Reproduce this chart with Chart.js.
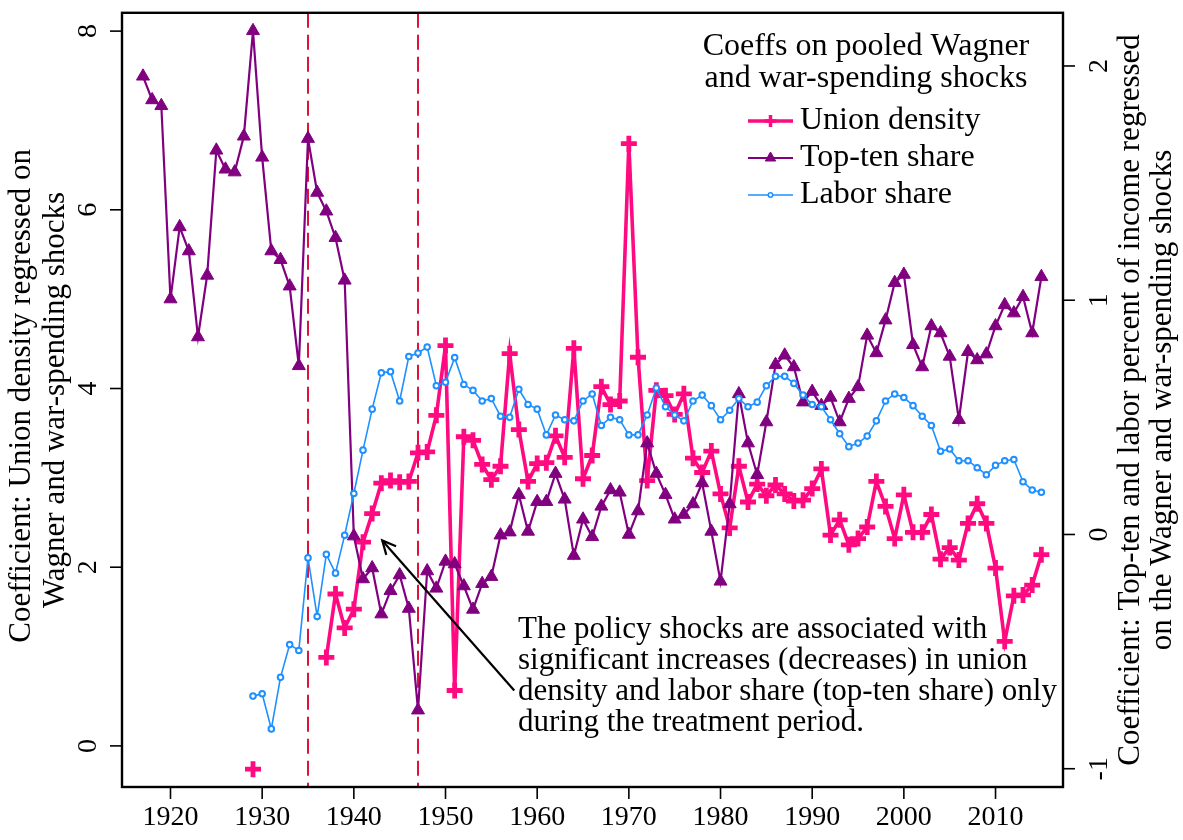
<!DOCTYPE html>
<html>
<head>
<meta charset="utf-8">
<script src="https://cdn.jsdelivr.net/npm/chart.js@4.4.1/dist/chart.umd.min.js"></script>
<style>
  html, body { margin: 0; background: #fff; }
  #wrap { width: 1183px; height: 840px; position: relative; }
</style>
</head>
<body>
<div id="wrap"><canvas id="chart"></canvas></div>
<script>
// years 1917..2015
const years = Array.from({ length: 99 }, (_, i) => 1917 + i);

// left axis
const unionDensity = [
  null, null, null, null, null, null, null, null, null, null, null, null, // 1917-1928
  -0.26,                                                                   // 1929
  null, null, null, null, null, null, null,                                // 1930-1936
  0.99, 1.70, 1.32, 1.53, 2.28, 2.60, 2.94, 2.97, 2.95, 2.96,              // 1937-1946
  3.28, 3.29, 3.70, 4.48, 0.62, 3.46, 3.42, 3.15, 2.98, 3.13,              // 1947-1956
  4.39, 3.54, 2.96, 3.16, 3.17, 3.47, 3.23, 4.45, 2.99, 3.25,              // 1957-1966
  4.02, 3.82, 3.86, 6.74, 4.35, 2.97, 3.98, 3.92, 3.71, 3.94,              // 1967-1976
  3.22, 3.06, 3.30, 2.82, 2.44, 3.13, 2.73, 2.93, 2.80, 2.92,              // 1977-1986
  2.82, 2.74, 2.75, 2.88, 3.10, 2.36, 2.53, 2.25, 2.32, 2.45,              // 1987-1996
  2.96, 2.68, 2.32, 2.81, 2.39, 2.39, 2.59, 2.09, 2.22, 2.08,              // 1997-2006
  2.49, 2.71, 2.49, 1.99, 1.17, 1.68, 1.69, 1.80, 2.14                     // 2007-2015
];

// right axis
const topTenShare = [
  1.956, 1.855, 1.83, 1.005, 1.313, 1.21, 0.843, 1.106, 1.64, 1.559,       // 1917-1926
  1.547, 1.70, 2.15, 1.61, 1.21, 1.173, 1.06, 0.72, 1.69, 1.46,            // 1927-1936
  1.38, 1.267, 1.085, -0.007, -0.19, -0.143, -0.34, -0.24, -0.173, -0.316, // 1937-1946
  -0.75, -0.156, -0.23, -0.115, -0.126, -0.22, -0.32, -0.21, -0.18, -0.003,// 1947-1956
  0.01, 0.17, 0.013, 0.14, 0.14, 0.26, 0.15, -0.09, 0.065, -0.01,          // 1957-1966
  0.12, 0.19, 0.18, 0.0, 0.10, 0.39, 0.26, 0.17, 0.065, 0.085,             // 1967-1976
  0.13, 0.22, 0.013, -0.2, 0.13, 0.60, 0.39, 0.255, 0.48, 0.725,           // 1977-1986
  0.765, 0.715, 0.565, 0.61, 0.55, 0.585, 0.48, 0.58, 0.63, 0.85,          // 1987-1996
  0.775, 0.915, 1.075, 1.11, 0.81, 0.715, 0.89, 0.86, 0.76, 0.49,          // 1997-2006
  0.78, 0.745, 0.77, 0.89, 0.98, 0.945, 1.015, 0.86, 1.10                  // 2007-2015
];

const laborShare = [
  null, null, null, null, null, null, null, null, null, null, null, null, // 1917-1928
  -0.69, -0.68, -0.83, -0.61, -0.47, -0.495, -0.10, -0.35,                 // 1929-1936
  -0.085, -0.165, -0.003, 0.175, 0.36, 0.535, 0.69, 0.695, 0.57, 0.76,     // 1937-1946
  0.775, 0.80, 0.635, 0.65, 0.755, 0.64, 0.615, 0.57, 0.58, 0.505,         // 1947-1956
  0.50, 0.62, 0.555, 0.535, 0.425, 0.51, 0.49, 0.485, 0.57, 0.60,          // 1957-1966
  0.465, 0.50, 0.49, 0.425, 0.425, 0.51, 0.625, 0.545, 0.51, 0.485,        // 1967-1976
  0.57, 0.595, 0.55, 0.49, 0.53, 0.58, 0.545, 0.565, 0.635, 0.675,         // 1977-1986
  0.675, 0.645, 0.595, 0.555, 0.545, 0.49, 0.43, 0.375, 0.39, 0.42,        // 1987-1996
  0.485, 0.57, 0.60, 0.585, 0.55, 0.505, 0.465, 0.355, 0.365, 0.315,       // 1997-2006
  0.315, 0.285, 0.255, 0.295, 0.315, 0.32, 0.225, 0.19, 0.18               // 2007-2015
];

const xTicks = [1920, 1930, 1940, 1950, 1960, 1970, 1980, 1990, 2000, 2010];
const leftTicks = [0, 2, 4, 6, 8];
const rightTicks = [-1, 0, 1, 2];
const treatmentYears = [1935, 1947];

const legendTitle = ['Coeffs on pooled Wagner', 'and war-spending shocks'];
const leftTitle = ['Coefficient: Union density regressed on', 'Wagner and war-spending shocks'];
const rightTitle = ['Coefficient: Top-ten and labor percent of income regressed', 'on the Wagner and war-spending shocks'];
const note = [
  'The policy shocks are associated with',
  'significant increases (decreases) in union',
  'density and labor share (top-ten share) only',
  'during the treatment period.'
];

const PINK = '#ff0a80';
const PURPLE = '#800080';
const BLUE = '#1e90ff';
const DASH = '#dc143c';
const FONT = '"Liberation Serif", "Times New Roman", serif';

const pts = vals => years.map((yr, i) => ({ x: yr, y: vals[i] }));

const series = [
  { label: 'Union density', color: PINK, style: 'cross', lw: 3.5 },
  { label: 'Top-ten share', color: PURPLE, style: 'triangle', lw: 2 },
  { label: 'Labor share', color: BLUE, style: 'circle', lw: 1.6 }
];

const decor = {
  id: 'decor',
  beforeDatasetsDraw(chart) {
    const { ctx, chartArea: a, scales: { x } } = chart;
    ctx.save();
    ctx.strokeStyle = DASH;
    ctx.lineWidth = 2;
    ctx.setLineDash([15, 7]);
    treatmentYears.forEach(yr => {
      const px = Math.round(x.getPixelForValue(yr));
      ctx.beginPath();
      ctx.moveTo(px, a.top);
      ctx.lineTo(px, a.bottom);
      ctx.stroke();
    });
    ctx.restore();
  },
  afterDraw(chart) {
    const { ctx, chartArea: a, scales: { x, y, yR } } = chart;
    ctx.save();
    // frame
    ctx.strokeStyle = '#000';
    ctx.lineWidth = 2.4;
    ctx.strokeRect(a.left, a.top, a.right - a.left, a.bottom - a.top);

    // ticks + labels
    ctx.lineWidth = 1.6;
    ctx.fillStyle = '#000';
    ctx.font = '28px ' + FONT;
    ctx.textAlign = 'center';
    ctx.textBaseline = 'middle';
    xTicks.forEach(v => {
      const px = x.getPixelForValue(v);
      ctx.beginPath(); ctx.moveTo(px, a.bottom); ctx.lineTo(px, a.bottom + 12); ctx.stroke();
      ctx.fillText(String(v), px, a.bottom + 31);
    });
    const rot = (txt, px, py) => {
      ctx.save(); ctx.translate(px, py); ctx.rotate(-Math.PI / 2); ctx.fillText(txt, 0, 0); ctx.restore();
    };
    leftTicks.forEach(v => {
      const py = y.getPixelForValue(v);
      ctx.beginPath(); ctx.moveTo(a.left, py); ctx.lineTo(a.left - 12, py); ctx.stroke();
      rot(String(v), a.left - 33, py);
    });
    rightTicks.forEach(v => {
      const py = yR.getPixelForValue(v);
      ctx.beginPath(); ctx.moveTo(a.right, py); ctx.lineTo(a.right + 12, py); ctx.stroke();
      rot(String(v), a.right + 37, py);
    });

    // axis titles
    ctx.font = '31px ' + FONT;
    const midY = (a.top + a.bottom) / 2;
    rot(leftTitle[0], 22, midY - 4);
    rot(leftTitle[1], 56, midY);
    rot(rightTitle[0], 1131, midY);
    rot(rightTitle[1], 1163, midY);

    // legend
    ctx.font = '32px ' + FONT;
    ctx.textAlign = 'center';
    ctx.fillText(legendTitle[0], 866, 47);
    ctx.fillText(legendTitle[1], 866, 79);
    ctx.textAlign = 'left';
    series.forEach((s, i) => {
      const ly = 121 + i * 37;
      ctx.strokeStyle = s.color;
      ctx.fillStyle = s.color;
      ctx.lineWidth = s.lw;
      ctx.setLineDash([]);
      ctx.beginPath(); ctx.moveTo(748, ly); ctx.lineTo(793, ly); ctx.stroke();
      const opt = s.style === 'cross'
        ? { pointStyle: 'cross', radius: 6, rotation: 0, borderWidth: 3.5 }
        : s.style === 'triangle'
          ? { pointStyle: 'triangle', radius: 6, rotation: 0, borderWidth: 1 }
          : { pointStyle: 'circle', radius: 2.2, rotation: 0, borderWidth: 1.5 };
      if (s.style === 'circle') ctx.fillStyle = '#fff';
      ctx.lineWidth = opt.borderWidth;
      Chart.helpers.drawPoint(ctx, opt, 770.5, ly);
      ctx.fillStyle = '#000';
      ctx.fillText(s.label, 800, ly);
    });

    // annotation text
    ctx.font = '31px ' + FONT;
    ctx.textAlign = 'left';
    note.forEach((line, i) => ctx.fillText(line, 518, 630 + i * 31));

    // arrow (data coordinates on the left axis)
    const tail = { x: x.getPixelForValue(1957.5), y: y.getPixelForValue(0.62) };
    const tip = { x: x.getPixelForValue(1943.1), y: y.getPixelForValue(2.30) };
    ctx.strokeStyle = '#000';
    ctx.lineWidth = 2.2;
    ctx.beginPath(); ctx.moveTo(tail.x, tail.y); ctx.lineTo(tip.x, tip.y); ctx.stroke();
    const ang = Math.atan2(tip.y - tail.y, tip.x - tail.x);
    const hl = 15;
    ctx.beginPath();
    ctx.moveTo(tip.x - hl * Math.cos(ang - Math.PI / 7), tip.y - hl * Math.sin(ang - Math.PI / 7));
    ctx.lineTo(tip.x, tip.y);
    ctx.lineTo(tip.x - hl * Math.cos(ang + Math.PI / 7), tip.y - hl * Math.sin(ang + Math.PI / 7));
    ctx.stroke();
    ctx.restore();
  }
};

new Chart(document.getElementById('chart'), {
  type: 'line',
  data: {
    datasets: [
      {
        label: 'Labor share', data: pts(laborShare), yAxisID: 'yR',
        borderColor: BLUE, borderWidth: 1.6,
        pointStyle: 'circle', pointRadius: 2.8, pointBorderWidth: 2,
        pointBorderColor: BLUE, pointBackgroundColor: '#fff'
      },
      {
        label: 'Top-ten share', data: pts(topTenShare), yAxisID: 'yR',
        borderColor: PURPLE, borderWidth: 2.2,
        pointStyle: 'triangle', pointRadius: 7.5, pointBorderWidth: 1,
        pointBorderColor: PURPLE, pointBackgroundColor: PURPLE
      },
      {
        label: 'Union density', data: pts(unionDensity), yAxisID: 'y',
        borderColor: PINK, borderWidth: 3.6,
        pointStyle: 'cross', pointRadius: 8, pointBorderWidth: 4.8,
        pointBorderColor: PINK, pointBackgroundColor: PINK
      }
    ]
  },
  options: {
    responsive: true,
    maintainAspectRatio: false,
    animation: false,
    layout: { padding: { left: 122, top: 6, right: 120, bottom: 53 } },
    elements: { line: { tension: 0 } },
    plugins: { legend: { display: false }, tooltip: { enabled: false } },
    scales: {
      x: { type: 'linear', min: 1914.71, max: 2017.36, display: false },
      y: { min: -0.46, max: 8.205, display: false },
      yR: { position: 'right', min: -1.078, max: 2.227, display: false }
    }
  },
  plugins: [decor]
});
</script>
</body>
</html>
